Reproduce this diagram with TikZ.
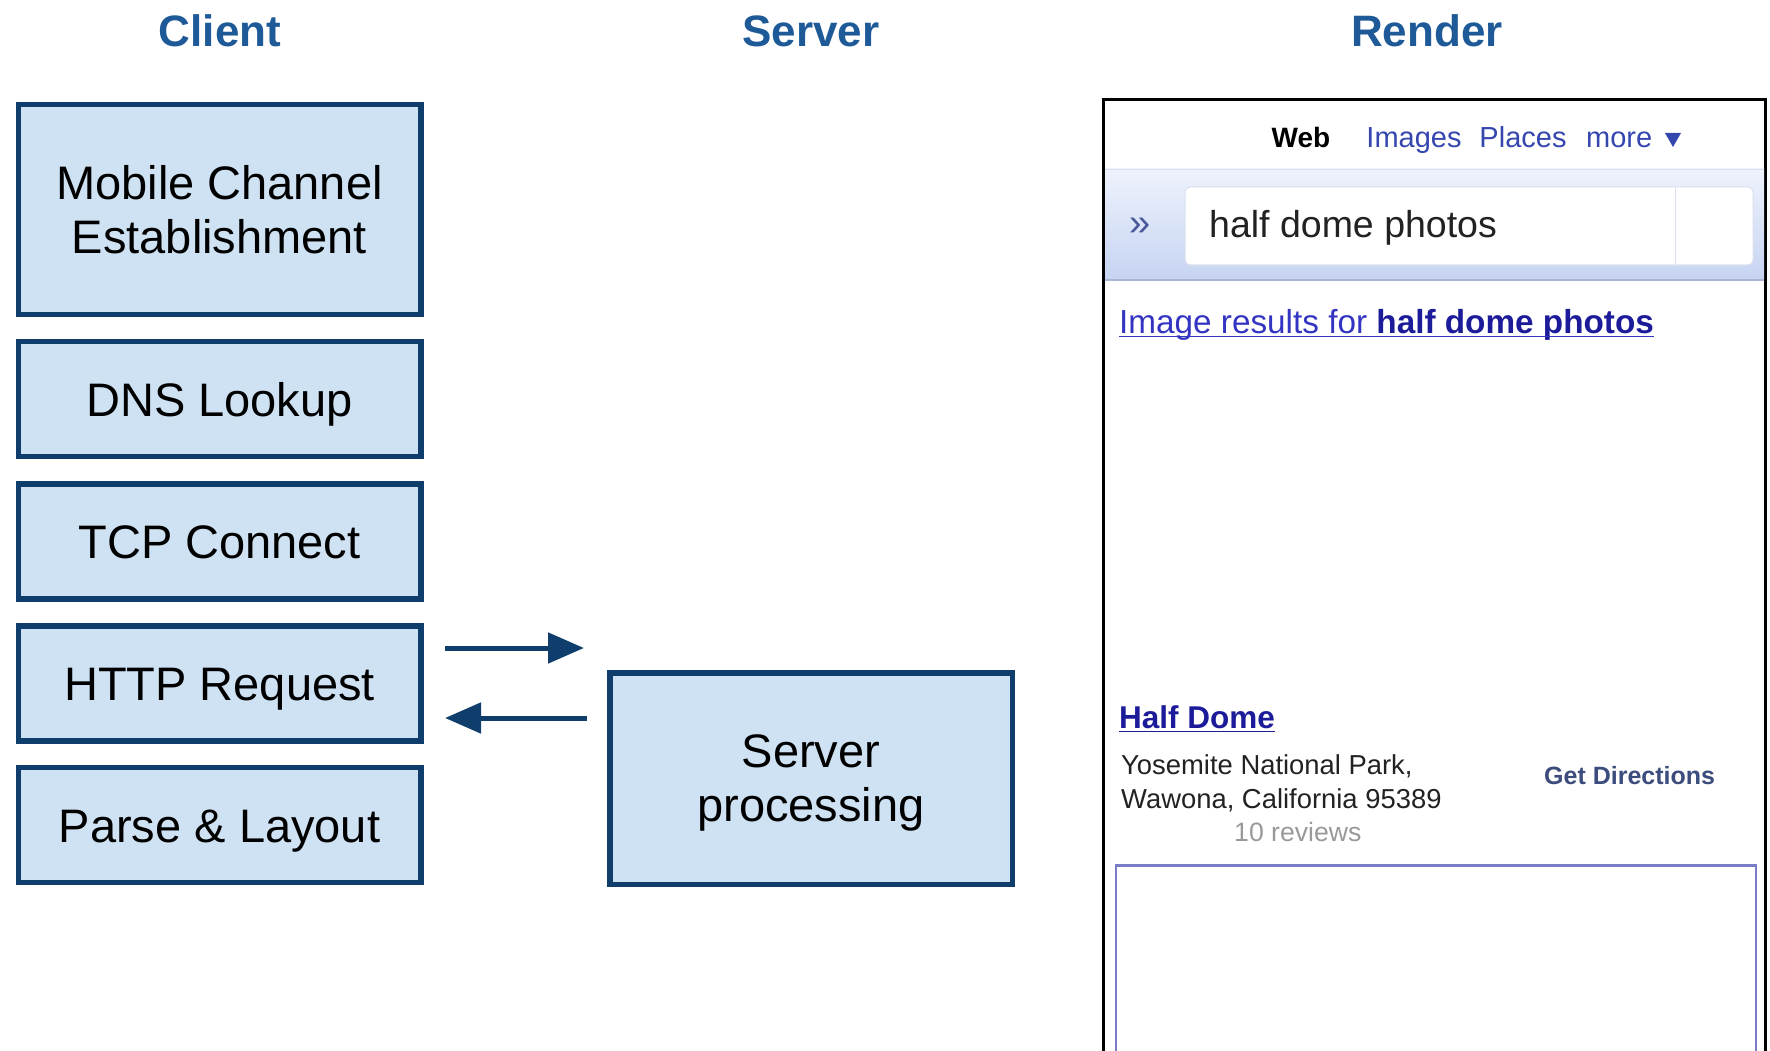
\documentclass[tikz,border=0pt]{standalone}
\usepackage{fontspec}
\setmainfont{Liberation Sans}
\usetikzlibrary{arrows.meta}

\definecolor{titleblue}{HTML}{1F5A98}
\definecolor{boxfill}{HTML}{CFE2F3}
\definecolor{boxline}{HTML}{0F3E6C}
\definecolor{navblue}{HTML}{3546AE}
\definecolor{linkblue}{HTML}{3434C2}
\definecolor{linkdark}{HTML}{1C1C9A}
\definecolor{dirblue}{HTML}{3C4C7C}
\definecolor{bandtop}{HTML}{EEF2FC}
\definecolor{bandbot}{HTML}{C6D4F2}
\definecolor{bandedge}{HTML}{A9B5D3}
\definecolor{fieldedge}{HTML}{D9DFEE}
\definecolor{chevron}{HTML}{4A5899}
\definecolor{bodytext}{HTML}{222222}
\definecolor{greytext}{HTML}{999999}
\definecolor{mapline}{HTML}{7B7BC8}

\tikzset{
  coltitle/.style={font=\fontsize{44}{50}\selectfont\bfseries, text=titleblue, anchor=base, inner sep=0pt},
  stage/.style={draw=boxline, line width=5.5pt, fill=boxfill, minimum width=402.5pt,
                inner sep=0pt, align=center, font=\fontsize{47}{54}\selectfont},
  oneline/.style={minimum height=115pt, text height=34pt, text depth=0pt},
  flow/.style={draw=boxline, line width=5pt, -{Triangle[length=36pt,width=30pt]}},
  ui/.style={inner sep=0pt, anchor=base west},
  navitem/.style={inner sep=0pt, anchor=base, font=\fontsize{29}{34}\selectfont, text=navblue},
}

\begin{document}
\begin{tikzpicture}[x=1pt, y=-1pt]
\useasboundingbox (0,0) rectangle (1770,1051);

% column headings
\node[coltitle] (tclient) at (220,47) {Client};
\node[coltitle] (tserver) at (811,47) {Server};
\node[coltitle] (trender) at (1427,47) {Render};

% client-side stages
\node[stage, minimum height=209.5pt] (mce) at (219.5,209.5) {Mobile Channel\\Establishment};
\node[stage, oneline] (dns)   at (219.5,399) {DNS Lookup};
\node[stage, oneline] (tcp)   at (219.5,541.5) {TCP Connect};
\node[stage, oneline] (http)  at (219.5,683.5) {HTTP Request};
\node[stage, oneline] (parse) at (219.5,825) {Parse \& Layout};

% server-side stage
\node[stage, minimum height=211.5pt] (srv) at (811,778.5) {Server\\\smash{processing}};

% request / response
\coordinate (reqS) at (445,648);
\coordinate (reqE) at (584,648);
\coordinate (resS) at (587,718);
\coordinate (resE) at (445,718);
\draw[flow] (reqS) -- (reqE);
\draw[flow] (resS) -- (resE);

% rendered page: phone frame
\draw[line width=3pt] (1103.5,1060) -- (1103.5,99.5) -- (1765.5,99.5) -- (1765.5,1060);

% navigation row
\node[navitem, text=black, font=\fontsize{28}{34}\selectfont\bfseries] (navweb) at (1301,148) {Web};
\node[navitem] (navimg) at (1414,148) {Images};
\node[navitem] (navplc) at (1523,148) {Places};
\node[navitem, anchor=base west] (navmore) at (1586,148) {more};
\fill[navblue] (1665,133) -- (1681,133) -- (1673,147) -- cycle;

% search band
\shade[top color=bandtop, bottom color=bandbot] (1105,169) rectangle (1764,280);
\draw[fieldedge, line width=1.5pt] (1105,169.5) -- (1764,169.5);
\draw[bandedge, line width=2pt] (1105,280) -- (1764,280);
\draw[draw=fieldedge, fill=white, line width=1pt, rounded corners=5pt] (1185,187) rectangle (1753,265);
\draw[fieldedge, line width=1pt] (1675,187) -- (1675,265);
\node[inner sep=0pt, font=\fontsize{38}{40}\selectfont, text=chevron] (chev) at (1140,227) {»};
\node[ui, font=\fontsize{37.5}{40}\selectfont, text=bodytext] (query) at (1209,238) {half dome photos};

% image results link
\node[ui, font=\fontsize{33.3}{36}\selectfont, text=linkblue] (imglink) at (1119,333)
  {Image results for \textbf{\color{linkdark}half dome photos}};
\draw[linkblue, line width=1.8pt] ([yshift=-3.5pt]imglink.base west) -- ([yshift=-3.5pt]imglink.base east);

% place result
\node[ui, font=\fontsize{31.5}{34}\selectfont\bfseries, text=linkdark] (place) at (1119,728) {Half Dome};
\draw[linkdark, line width=1.8pt] ([yshift=-3.5pt]place.base west) -- ([yshift=-3.5pt]place.base east);
\node[ui, font=\fontsize{27.4}{32}\selectfont, text=bodytext] (addr1) at (1121,774.5) {Yosemite National Park,};
\node[ui, font=\fontsize{27.4}{32}\selectfont, text=bodytext] (addr2) at (1121,808) {Wawona, California 95389};
\node[ui, font=\fontsize{26.6}{30}\selectfont, text=greytext] (rev) at (1234,841) {10 reviews};
\node[ui, font=\fontsize{25}{28}\selectfont\bfseries, text=dirblue] (dir) at (1544,784.5) {Get Directions};

% map frame
\draw[mapline, line width=2.5pt] (1116,1060) -- (1116,865.5) -- (1756,865.5) -- (1756,1060);
\end{tikzpicture}
\end{document}
